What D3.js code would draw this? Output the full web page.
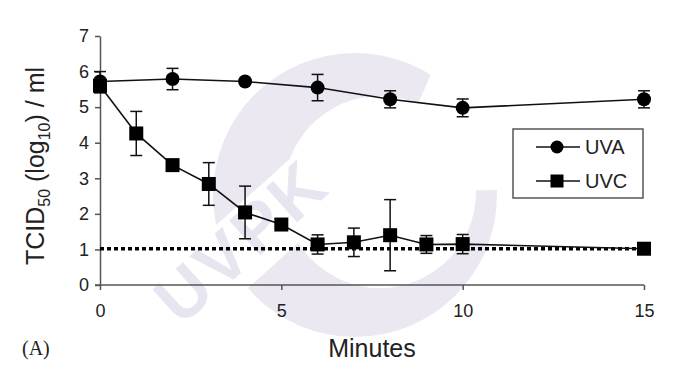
<!DOCTYPE html>
<html>
<head>
<meta charset="utf-8">
<script src="https://cdn.jsdelivr.net/npm/d3@7"></script>
<style>
  body { margin: 0; background: #fff; }
  svg { display: block; font-family: Arial, "Liberation Sans", sans-serif; }
</style>
</head>
<body>
<svg id="chart" width="700" height="386"></svg>
<script>
// data
var uvaTime = [0, 2, 4, 6, 8, 10, 15];
var uvaMean = [5.72, 5.79, 5.72, 5.55, 5.22, 4.98, 5.22];
var uvaErr  = [0.28, 0.30, 0.05, 0.37, 0.24, 0.25, 0.24];

var uvcTime = [0, 1, 2, 3, 4, 5, 6, 7, 8, 9, 10, 15];
var uvcMean = [5.6, 4.26, 3.37, 2.84, 2.04, 1.7, 1.14, 1.2, 1.4, 1.14, 1.15, 1.02];
var uvcErr  = [0.2, 0.62, 0.05, 0.6, 0.74, 0.05, 0.27, 0.4, 1.0, 0.25, 0.27, 0.03];

var limitValue = 1.02;
var xTicks = [0, 5, 10, 15];
var yTicks = [0, 1, 2, 3, 4, 5, 6, 7];

var svg = d3.select("#chart");

var x = d3.scaleLinear().domain([0, 15]).range([100, 644]);
var y = d3.scaleLinear().domain([0, 7]).range([285, 36]);

//watermark
var wm = svg.append("g").attr("class", "watermark");
var mask = svg.append("defs").append("mask").attr("id", "wmMask");
mask.append("rect").attr("width", 700).attr("height", 386).attr("fill", "white");
mask.append("circle").attr("cx", 380).attr("cy", 192).attr("r", 96).attr("fill", "black");
mask.append("path").attr("d", "M380,192 L450,30 L600,30 L600,188 Z").attr("fill", "black");
mask.append("rect")
  .attr("x", -120).attr("y", -34).attr("width", 240).attr("height", 68)
  .attr("transform", "translate(245,245) rotate(-42)")
  .attr("fill", "black");
wm.append("circle")
  .attr("cx", 355).attr("cy", 195).attr("r", 142)
  .attr("fill", "#ebe8f2")
  .attr("mask", "url(#wmMask)");
wm.append("text")
  .attr("transform", "translate(245,245) rotate(-42)")
  .attr("text-anchor", "middle")
  .attr("dominant-baseline", "middle")
  .style("font-size", "68px")
  .style("font-weight", "bold")
  .style("letter-spacing", "4px")
  .attr("fill", "#e8e5f1")
  .text("UVPK");

//assi
var yAxis = svg.append("g")
  .attr("transform", "translate(" + x(0) + ",0)")
  .call(d3.axisLeft(y).tickValues(yTicks).tickFormat(d3.format("d")).tickSize(5).tickSizeOuter(0).tickPadding(6));
var xAxis = svg.append("g")
  .attr("transform", "translate(0," + y(0) + ")")
  .call(d3.axisBottom(x).tickValues(xTicks).tickFormat(d3.format("d")).tickSize(5).tickSizeOuter(0).tickPadding(14));

[yAxis, xAxis].forEach(function(a) {
  a.select(".domain").attr("stroke", "#555").attr("stroke-width", 1.5);
  a.selectAll(".tick line").attr("stroke", "#555").attr("stroke-width", 1.5);
  a.selectAll("text").style("font-size", "18px").attr("fill", "#222")
    .style("font-family", "Arial, 'Liberation Sans', sans-serif");
});
xAxis.select(".domain").attr("d", "M95,0H" + x(15));

//linea limite
svg.append("line")
  .attr("x1", x(0)).attr("x2", x(15))
  .attr("y1", y(limitValue)).attr("y2", y(limitValue))
  .attr("stroke", "#000")
  .attr("stroke-width", 3.5)
  .attr("stroke-dasharray", "4,3");

var line = d3.line()
  .x(function(d) { return x(d[0]); })
  .y(function(d) { return y(d[1]); });

function drawSeries(times, means, errs, shape) {
  var pts = times.map(function(t, i) { return [t, means[i], errs[i]]; });
  var g = svg.append("g");
  g.append("path")
    .attr("d", line(pts))
    .attr("fill", "none")
    .attr("stroke", "#111")
    .attr("stroke-width", 1.6);
  var eb = g.selectAll(".err").data(pts).enter().append("g");
  eb.append("line")
    .attr("x1", function(d) { return x(d[0]); })
    .attr("x2", function(d) { return x(d[0]); })
    .attr("y1", function(d) { return y(d[1] + d[2]); })
    .attr("y2", function(d) { return y(d[1] - d[2]); })
    .attr("stroke", "#111").attr("stroke-width", 1.5);
  [1, -1].forEach(function(s) {
    eb.append("line")
      .attr("x1", function(d) { return x(d[0]) - 6; })
      .attr("x2", function(d) { return x(d[0]) + 6; })
      .attr("y1", function(d) { return y(d[1] + s * d[2]); })
      .attr("y2", function(d) { return y(d[1] + s * d[2]); })
      .attr("stroke", "#111").attr("stroke-width", 1.5);
  });
  if (shape == "circle") {
    g.selectAll("circle").data(pts).enter().append("circle")
      .attr("cx", function(d) { return x(d[0]); })
      .attr("cy", function(d) { return y(d[1]); })
      .attr("r", 7)
      .attr("fill", "#000");
  } else {
    g.selectAll("rect").data(pts).enter().append("rect")
      .attr("x", function(d) { return x(d[0]) - 7; })
      .attr("y", function(d) { return y(d[1]) - 7; })
      .attr("width", 14).attr("height", 14)
      .attr("fill", "#000");
  }
}

drawSeries(uvaTime, uvaMean, uvaErr, "circle");
drawSeries(uvcTime, uvcMean, uvcErr, "square");

//legenda
var leg = svg.append("g");
leg.append("rect")
  .attr("x", 513).attr("y", 129).attr("width", 130).attr("height", 69)
  .attr("fill", "#fff").attr("stroke", "#555").attr("stroke-width", 1.5);
[["UVA", "circle", 147], ["UVC", "square", 181]].forEach(function(it) {
  leg.append("line").attr("x1", 536).attr("x2", 580).attr("y1", it[2]).attr("y2", it[2])
    .attr("stroke", "#111").attr("stroke-width", 1.6);
  if (it[1] == "circle")
    leg.append("circle").attr("cx", 557).attr("cy", it[2]).attr("r", 6.5).attr("fill", "#000");
  else
    leg.append("rect").attr("x", 550.5).attr("y", it[2] - 6.5).attr("width", 13).attr("height", 13).attr("fill", "#000");
  leg.append("text").attr("x", 585).attr("y", it[2] + 7)
    .style("font-size", "20px").attr("fill", "#222").text(it[0]);
});

//titoli
var yt = svg.append("text")
  .attr("transform", "translate(44,166) rotate(-90)")
  .attr("text-anchor", "middle")
  .style("font-size", "25px")
  .attr("fill", "#222");
yt.append("tspan").text("TCID");
yt.append("tspan").attr("dy", 6).style("font-size", "16px").text("50");
yt.append("tspan").attr("dy", -6).text(" (log");
yt.append("tspan").attr("dy", 6).style("font-size", "16px").text("10");
yt.append("tspan").attr("dy", -6).text(") / ml");

svg.append("text")
  .attr("x", 372).attr("y", 357)
  .attr("text-anchor", "middle")
  .style("font-size", "25px")
  .attr("fill", "#222")
  .text("Minutes");

svg.append("text")
  .attr("x", 22).attr("y", 355)
  .style("font-family", "'Liberation Serif', 'DejaVu Serif', serif")
  .style("font-size", "20px")
  .attr("fill", "#222")
  .text("(A)");
</script>
</body>
</html>
